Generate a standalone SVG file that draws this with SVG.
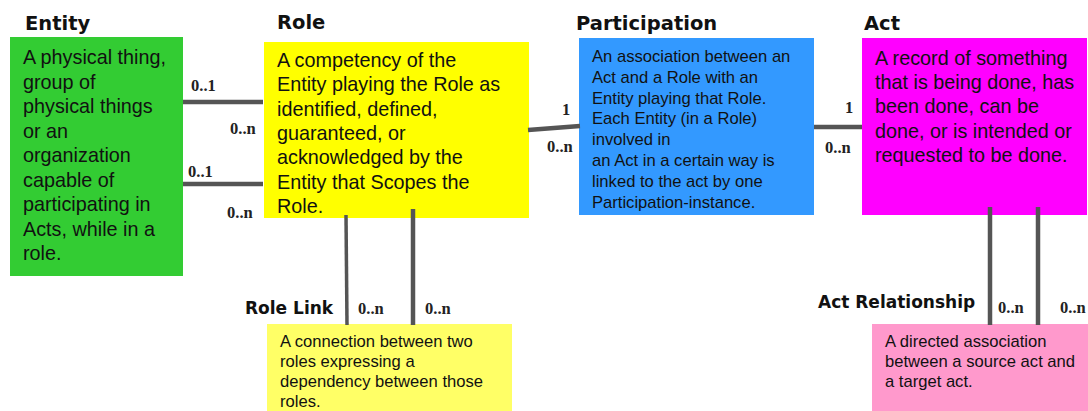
<svg xmlns="http://www.w3.org/2000/svg" width="1088" height="411" viewBox="0 0 1088 411">
  <style>
    .title { font-family: "DejaVu Sans", "Liberation Sans", sans-serif; font-weight: bold; font-size: 19.5px; fill: #111; }
    .subtitle { font-family: "DejaVu Sans", "Liberation Sans", sans-serif; font-weight: bold; font-size: 17px; fill: #111; }
    .body { font-family: "Liberation Sans", Arial, sans-serif; font-size: 19.8px; fill: #111; }
    .small { font-family: "Liberation Sans", Arial, sans-serif; font-size: 16.6px; fill: #111; }
    .card { font-family: "Liberation Serif", "Times New Roman", serif; font-weight: bold; font-size: 16.5px; fill: #222; }
    .link { stroke: #555; stroke-width: 4.5; fill: none; }
    .link-thin { stroke: #555; stroke-width: 3.5; fill: none; }
  </style>

  <rect width="1088" height="411" fill="#ffffff"/>

  <!-- Entity -->
  <g id="entity">
    <text class="title" x="25" y="30">Entity</text>
    <rect x="10" y="37" width="173" height="239" fill="#33cc33"/>
    <text class="body" x="23" y="64">
      <tspan x="23" y="64">A physical thing,</tspan>
      <tspan x="23" y="88.5">group of</tspan>
      <tspan x="23" y="113">physical things</tspan>
      <tspan x="23" y="137.5">or an</tspan>
      <tspan x="23" y="162">organization</tspan>
      <tspan x="23" y="186.5">capable of</tspan>
      <tspan x="23" y="211">participating in</tspan>
      <tspan x="23" y="235.5">Acts, while in a</tspan>
      <tspan x="23" y="260">role.</tspan>
    </text>
  </g>

  <!-- Role -->
  <g id="role">
    <text class="title" x="277" y="29">Role</text>
    <rect x="264" y="42" width="265" height="176" fill="#ffff00"/>
    <text class="body" x="277" y="67">
      <tspan x="277" y="67">A competency of the</tspan>
      <tspan x="277" y="91.3">Entity playing the Role as</tspan>
      <tspan x="277" y="115.6">identified, defined,</tspan>
      <tspan x="277" y="139.9">guaranteed, or</tspan>
      <tspan x="277" y="164.2">acknowledged by the</tspan>
      <tspan x="277" y="188.5">Entity that Scopes the</tspan>
      <tspan x="277" y="212.8">Role.</tspan>
    </text>
  </g>

  <!-- Participation -->
  <g id="participation">
    <text class="title" x="576" y="30">Participation</text>
    <rect x="579" y="38" width="235" height="177" fill="#3399ff"/>
    <text class="small" x="592" y="62">
      <tspan x="592" y="62">An association between an</tspan>
      <tspan x="592" y="82.8">Act and a Role with an</tspan>
      <tspan x="592" y="103.6">Entity playing that Role.</tspan>
      <tspan x="592" y="124.4">Each Entity (in a Role)</tspan>
      <tspan x="592" y="145.2">involved in</tspan>
      <tspan x="592" y="166">an Act in a certain way is</tspan>
      <tspan x="592" y="186.8">linked to the act by one</tspan>
      <tspan x="592" y="207.6">Participation-instance.</tspan>
    </text>
  </g>

  <!-- Act -->
  <g id="act">
    <text class="title" x="864" y="30">Act</text>
    <rect x="862" y="38" width="225" height="177" fill="#ff00ff"/>
    <text class="body" x="875" y="65">
      <tspan x="875" y="65">A record of something</tspan>
      <tspan x="875" y="89.2">that is being done, has</tspan>
      <tspan x="875" y="113.4">been done, can be</tspan>
      <tspan x="875" y="137.6">done, or is intended or</tspan>
      <tspan x="875" y="161.8">requested to be done.</tspan>
    </text>
  </g>

  <!-- Role Link -->
  <g id="role-link">
    <text class="subtitle" x="245" y="314">Role Link</text>
    <rect x="267" y="324" width="245" height="87" fill="#ffff66"/>
    <text class="small" x="280" y="347">
      <tspan x="280" y="347">A connection between two</tspan>
      <tspan x="280" y="367">roles expressing a</tspan>
      <tspan x="280" y="387">dependency between those</tspan>
      <tspan x="280" y="407">roles.</tspan>
    </text>
  </g>

  <!-- Act Relationship -->
  <g id="act-relationship">
    <text class="subtitle" x="818" y="308">Act Relationship</text>
    <rect x="872" y="324" width="216" height="87" fill="#ff99cc"/>
    <text class="small" x="885" y="347">
      <tspan x="885" y="347">A directed association</tspan>
      <tspan x="885" y="367">between a source act and</tspan>
      <tspan x="885" y="387">a target act.</tspan>
    </text>
  </g>

  <!-- Connectors with multiplicities -->
  <g id="connectors">
    <!-- Entity to Role (two associations) -->
    <line class="link" x1="183" y1="102" x2="263" y2="102"/>
    <line class="link" x1="183" y1="184" x2="263" y2="184"/>
    <text class="card" x="191" y="91">0..1</text>
    <text class="card" x="230" y="134">0..n</text>
    <text class="card" x="188" y="177">0..1</text>
    <text class="card" x="227" y="218">0..n</text>

    <!-- Role to Participation -->
    <line class="link" x1="528" y1="130" x2="580" y2="126"/>
    <text class="card" x="562" y="115">1</text>
    <text class="card" x="547" y="152">0..n</text>

    <!-- Participation to Act -->
    <line class="link" x1="814" y1="127" x2="862" y2="127"/>
    <text class="card" x="845" y="113">1</text>
    <text class="card" x="825" y="153">0..n</text>

    <!-- Role to Role Link -->
    <line class="link-thin" x1="346" y1="215" x2="347" y2="325"/>
    <line class="link" x1="413" y1="209" x2="413" y2="325"/>
    <text class="card" x="358" y="314">0..n</text>
    <text class="card" x="425" y="314">0..n</text>

    <!-- Act to Act Relationship -->
    <line class="link" x1="990" y1="207" x2="990" y2="325"/>
    <line class="link" x1="1038" y1="207" x2="1038" y2="325"/>
    <text class="card" x="998" y="313">0..n</text>
    <text class="card" x="1060" y="313">0..n</text>
  </g>
</svg>
